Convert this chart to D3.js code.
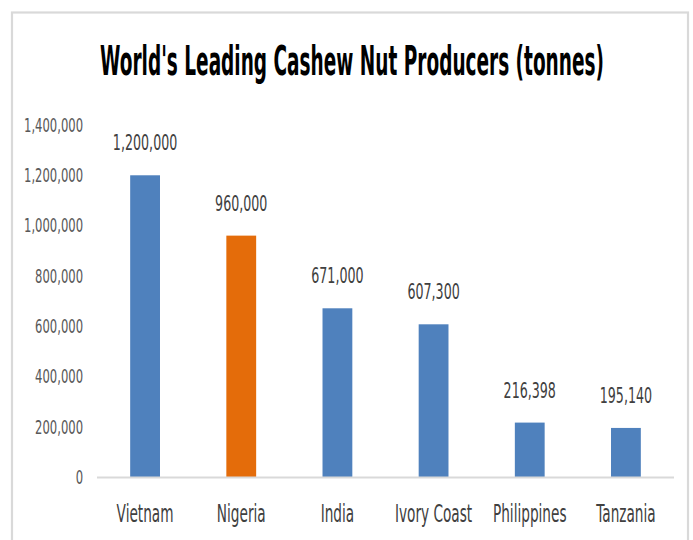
<!DOCTYPE html>
<html>
<head>
<meta charset="utf-8">
<script src="https://cdn.jsdelivr.net/npm/d3@7"></script>
<style>
  html, body { margin: 0; padding: 0; background: #ffffff; }
  svg { display: block; }
</style>
</head>
<body>
<svg id="chart" width="693" height="540"></svg>
<script>
const titleText = "World's Leading Cashew Nut Producers (tonnes)";
const categories = ["Vietnam", "Nigeria", "India", "Ivory Coast", "Philippines", "Tanzania"];
const values = [1200000, 960000, 671000, 607300, 216398, 195140];
const highlighted = ["Nigeria"];
const yTickValues = [0, 200000, 400000, 600000, 800000, 1000000, 1200000, 1400000];

const W = 693, H = 540;
const plot = { left: 97, right: 674, top: 125, bottom: 477 };
const FONT = "'DejaVu Sans', 'Liberation Sans', sans-serif";
const textColor = "#595959";

const svg = d3.select("#chart");

// frame
svg.append("rect").attr("x", 0).attr("y", 0).attr("width", W).attr("height", H).attr("fill", "#ffffff");
svg.append("rect")
  .attr("x", 12).attr("y", 12.5).attr("width", 676).attr("height", 560)
  .attr("fill", "#ffffff").attr("stroke", "#d9d9d9").attr("stroke-width", 2.2);

const x = d3.scaleBand().domain(categories).range([plot.left, plot.right])
  .paddingInner(0.69).paddingOuter(0.345);
const y = d3.scaleLinear().domain([0, 1400000]).range([plot.bottom, plot.top]);

// helper: horizontal condensing factor so a reference string reaches a target width
function condenseFactor(fontSize, weight, sample, targetWidth) {
  const t = svg.append("text").attr("font-family", FONT).attr("font-size", fontSize)
    .attr("font-weight", weight).text(sample);
  const w = t.node().getComputedTextLength();
  t.remove();
  return targetWidth / w;
}

// title
const titleSx = condenseFactor(40, "bold", titleText, 504);
svg.append("text")
  .attr("transform", `translate(352,75) scale(${titleSx},1)`)
  .attr("text-anchor", "middle")
  .attr("font-family", FONT).attr("font-weight", "bold").attr("font-size", 40)
  .attr("fill", "#000000")
  .text(titleText);

// y axis
const tickSx = condenseFactor(20, "normal", "1,400,000", 59);
const yAxis = d3.axisLeft(y).tickValues(yTickValues).tickFormat(d3.format(",")).tickSize(0).tickPadding(14);
const gy = svg.append("g").attr("transform", `translate(${plot.left},0)`).call(yAxis);
gy.select(".domain").remove();
gy.selectAll("text")
  .attr("font-family", FONT).attr("font-size", 20).attr("fill", textColor)
  .attr("x", -14 / tickSx)
  .attr("transform", `scale(${tickSx},1)`);

// bars
svg.append("g").selectAll("rect").data(categories).join("rect")
  .attr("x", d => x(d))
  .attr("y", (d, i) => y(values[i]))
  .attr("width", x.bandwidth())
  .attr("height", (d, i) => y(0) - y(values[i]))
  .attr("fill", d => highlighted.includes(d) ? "#e46c0a" : "#4f81bd");

// baseline
svg.append("line")
  .attr("x1", plot.left).attr("x2", plot.right)
  .attr("y1", y(0) + 0.5).attr("y2", y(0) + 0.5)
  .attr("stroke", "#d9d9d9").attr("stroke-width", 2);

// data labels
const labSx = condenseFactor(21, "normal", "1,200,000", 64.5);
const fmt = d3.format(",");
svg.append("g").selectAll("text").data(categories).join("text")
  .attr("transform", (d, i) => `translate(${x(d) + x.bandwidth() / 2},${y(values[i]) - 25}) scale(${labSx},1)`)
  .attr("text-anchor", "middle")
  .attr("font-family", FONT).attr("font-size", 21).attr("fill", "#404040")
  .text((d, i) => fmt(values[i]));

// category labels
const catSx = condenseFactor(25, "normal", "Vietnam", 57);
const xAxis = d3.axisBottom(x).tickSize(0).tickPadding(0);
const gx = svg.append("g").attr("transform", `translate(0,${plot.bottom})`).call(xAxis);
gx.select(".domain").remove();
gx.selectAll("text")
  .attr("font-family", FONT).attr("font-size", 25).attr("fill", "#404040")
  .attr("y", 0).attr("dy", 0)
  .attr("transform", `translate(0,44.5) scale(${catSx},1)`);
</script>
</body>
</html>
